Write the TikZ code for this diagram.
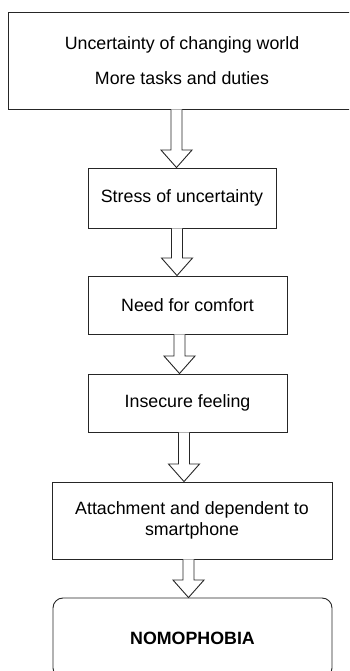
\documentclass[tikz,border=0pt]{standalone}
\usepackage{fontspec}
\setmainfont{Liberation Sans}
\usetikzlibrary{calc}

% hollow block arrow from the bottom of one box to the top of the next
\newcommand{\flowarrow}[3]{%
  \draw[hollow] let \p1=(#1.south), \p2=(#2.north) in
    (#3pt-5.5pt,\y1) -- (#3pt-5.5pt,\y2+17.5pt) -- (#3pt-15.5pt,\y2+17.5pt) -- (#3pt,\y2)
    -- (#3pt+15.5pt,\y2+17.5pt) -- (#3pt+5.5pt,\y2+17.5pt) -- (#3pt+5.5pt,\y1);}

\begin{document}
\begin{tikzpicture}[x=1pt,y=1pt,
		flowbox/.style={draw=black!85, line width=0.9pt, fill=white, inner sep=0pt, align=center,
			font=\fontsize{17.8pt}{21pt}\selectfont},
		hollow/.style={draw=black!85, line width=0.9pt, fill=white}]
		\useasboundingbox (0,0) rectangle (349,671);
		\clip (0,0) rectangle (349,671);

		\node[flowbox, minimum width=348pt, minimum height=97pt] (world) at (182,610.5) {Uncertainty of changing world\\[14pt]More tasks and duties};
		\node[flowbox, minimum width=188pt, minimum height=60pt] (stress) at (182,473) {Stress of uncertainty};
		\node[flowbox, minimum width=199pt, minimum height=58pt] (comfort) at (187.5,366) {Need for comfort};
		\node[flowbox, minimum width=199pt, minimum height=58pt] (insecure) at (187.5,268) {Insecure feeling};
		\node[flowbox, minimum width=280pt, minimum height=77pt] (attach) at (192,150.5) {Attachment and dependent to\\smartphone};
		\node[flowbox, rounded corners=10pt, minimum width=279pt, minimum height=80pt, font=\fontsize{17.8pt}{21pt}\selectfont\bfseries] (nomo) at (192.5,33) {NOMOPHOBIA};

		\flowarrow{world}{stress}{176.5}
		\flowarrow{stress}{comfort}{177}
		\flowarrow{comfort}{insecure}{179.5}
		\flowarrow{insecure}{attach}{184}
		\flowarrow{attach}{nomo}{188.5}
	\end{tikzpicture}
\end{document}
